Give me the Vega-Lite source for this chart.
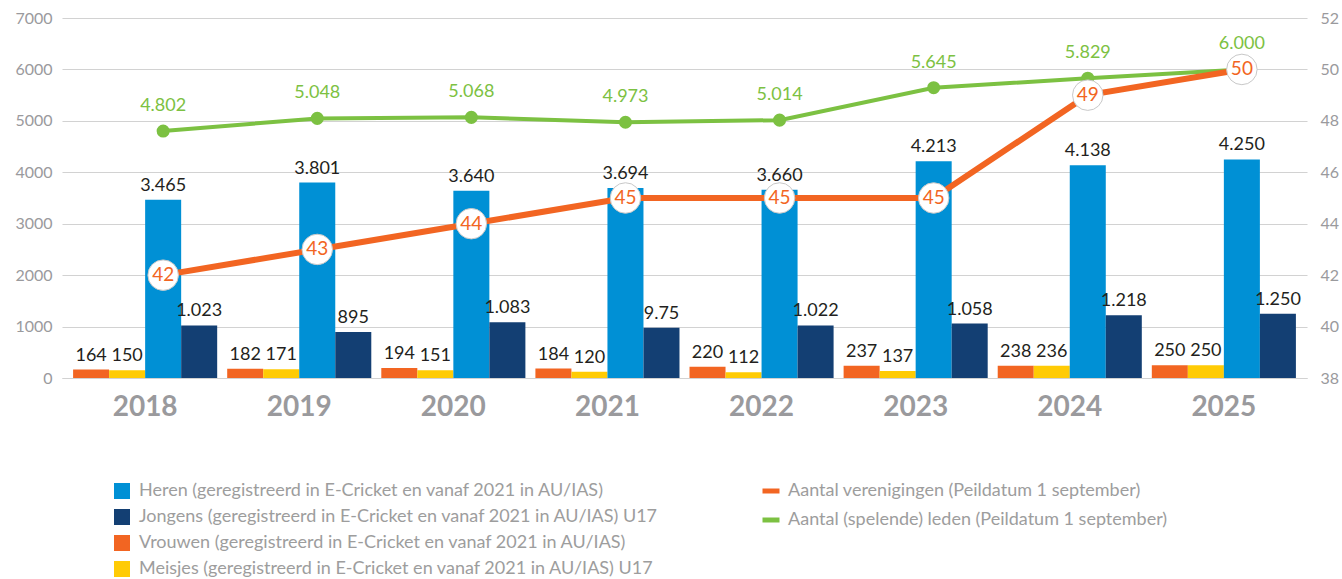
{
  "$schema": "https://vega.github.io/schema/vega-lite/v6.json",
  "width": 1245,
  "height": 360,
  "autosize": {"type": "none"},
  "padding": {"left": 62, "top": 18, "right": 35, "bottom": 201},
  "background": "white",
  "config": {
    "font": "Lato",
    "view": {"stroke": null},
    "axis": {"labelFont": "Lato", "labelColor": "#9a9a9d", "ticks": false, "domain": false, "gridColor": "#d2d2d2", "gridWidth": 1.2},
    "axisLeft": {"labelPadding": 10, "labelFontSize": 16},
    "axisRight": {"labelPadding": 13, "labelFontSize": 16},
    "legend": {"labelFont": "Lato", "labelFontSize": 18, "labelColor": "#9d9d9d", "orient": "none", "title": null, "rowPadding": 8, "labelOffset": 8, "labelLimit": 0, "padding": 0}
  },
  "datasets": {
    "bars": [
      {"year": "2018", "serie": "Vrouwen", "value": 164, "label": "164"},
      {"year": "2018", "serie": "Meisjes", "value": 150, "label": "150"},
      {"year": "2018", "serie": "Heren", "value": 3465, "label": "3.465"},
      {"year": "2018", "serie": "Jongens", "value": 1023, "label": "1.023"},
      {"year": "2019", "serie": "Vrouwen", "value": 182, "label": "182"},
      {"year": "2019", "serie": "Meisjes", "value": 171, "label": "171"},
      {"year": "2019", "serie": "Heren", "value": 3801, "label": "3.801"},
      {"year": "2019", "serie": "Jongens", "value": 895, "label": "895"},
      {"year": "2020", "serie": "Vrouwen", "value": 194, "label": "194"},
      {"year": "2020", "serie": "Meisjes", "value": 151, "label": "151"},
      {"year": "2020", "serie": "Heren", "value": 3640, "label": "3.640"},
      {"year": "2020", "serie": "Jongens", "value": 1083, "label": "1.083"},
      {"year": "2021", "serie": "Vrouwen", "value": 184, "label": "184"},
      {"year": "2021", "serie": "Meisjes", "value": 120, "label": "120"},
      {"year": "2021", "serie": "Heren", "value": 3694, "label": "3.694"},
      {"year": "2021", "serie": "Jongens", "value": 975, "label": "9.75"},
      {"year": "2022", "serie": "Vrouwen", "value": 220, "label": "220"},
      {"year": "2022", "serie": "Meisjes", "value": 112, "label": "112"},
      {"year": "2022", "serie": "Heren", "value": 3660, "label": "3.660"},
      {"year": "2022", "serie": "Jongens", "value": 1022, "label": "1.022"},
      {"year": "2023", "serie": "Vrouwen", "value": 237, "label": "237"},
      {"year": "2023", "serie": "Meisjes", "value": 137, "label": "137"},
      {"year": "2023", "serie": "Heren", "value": 4213, "label": "4.213"},
      {"year": "2023", "serie": "Jongens", "value": 1058, "label": "1.058"},
      {"year": "2024", "serie": "Vrouwen", "value": 238, "label": "238"},
      {"year": "2024", "serie": "Meisjes", "value": 236, "label": "236"},
      {"year": "2024", "serie": "Heren", "value": 4138, "label": "4.138"},
      {"year": "2024", "serie": "Jongens", "value": 1218, "label": "1.218"},
      {"year": "2025", "serie": "Vrouwen", "value": 250, "label": "250"},
      {"year": "2025", "serie": "Meisjes", "value": 250, "label": "250"},
      {"year": "2025", "serie": "Heren", "value": 4250, "label": "4.250"},
      {"year": "2025", "serie": "Jongens", "value": 1250, "label": "1.250"}
    ],
    "lines": [
      {"year": "2018", "verenigingen": 42, "leden": 4802, "ledenLabel": "4.802"},
      {"year": "2019", "verenigingen": 43, "leden": 5048, "ledenLabel": "5.048"},
      {"year": "2020", "verenigingen": 44, "leden": 5068, "ledenLabel": "5.068"},
      {"year": "2021", "verenigingen": 45, "leden": 4973, "ledenLabel": "4.973"},
      {"year": "2022", "verenigingen": 45, "leden": 5014, "ledenLabel": "5.014"},
      {"year": "2023", "verenigingen": 45, "leden": 5645, "ledenLabel": "5.645"},
      {"year": "2024", "verenigingen": 49, "leden": 5829, "ledenLabel": "5.829"},
      {"year": "2025", "verenigingen": 50, "leden": 6000, "ledenLabel": "6.000"}
    ]
  },
  "encoding": {
    "x": {
      "field": "year",
      "type": "ordinal",
      "scale": {"paddingInner": 0.065, "paddingOuter": 0.072},
      "axis": {"title": null, "labelAngle": 0, "labelFontSize": 28, "labelFontWeight": "bold", "labelColor": "#9a9a9d", "labelPadding": 15, "domain": true, "domainColor": "#d2d2d2", "domainWidth": 1.2, "ticks": false, "grid": false}
    }
  },
  "layer": [
    {
      "layer": [
        {
          "data": {"name": "bars"},
          "mark": {"type": "bar"},
          "encoding": {
            "xOffset": {"field": "serie", "type": "nominal", "scale": {"domain": ["Vrouwen", "Meisjes", "Heren", "Jongens"], "paddingInner": 0, "paddingOuter": 0}},
            "y": {"field": "value", "type": "quantitative", "scale": {"domain": [0, 7000], "nice": false}, "axis": {"orient": "left", "title": null, "values": [0, 1000, 2000, 3000, 4000, 5000, 6000, 7000], "format": "d", "grid": true}},
            "fill": {
              "field": "serie",
              "type": "nominal",
              "scale": {"domain": ["Heren", "Jongens", "Vrouwen", "Meisjes"], "range": ["#0090d5", "#133f73", "#f26522", "#ffcb05"]},
              "legend": {
                "legendX": 51,
                "legendY": 464,
                "symbolType": "square",
                "symbolSize": 256,
                "symbolStrokeWidth": 0,
                "labelExpr": "datum.label == 'Heren' ? 'Heren (geregistreerd in E-Cricket en vanaf 2021 in AU/IAS)' : datum.label == 'Jongens' ? 'Jongens (geregistreerd in E-Cricket en vanaf 2021 in AU/IAS) U17' : datum.label == 'Vrouwen' ? 'Vrouwen (geregistreerd in E-Cricket en vanaf 2021 in AU/IAS)' : 'Meisjes (geregistreerd in E-Cricket en vanaf 2021 in AU/IAS) U17'"
              }
            }
          }
        },
        {
          "data": {"name": "bars"},
          "mark": {"type": "text", "baseline": "alphabetic", "dy": -9, "fontSize": 18, "color": "#231f20"},
          "encoding": {
            "xOffset": {"field": "serie", "type": "nominal"},
            "y": {"field": "value", "type": "quantitative", "axis": {"title": null}},
            "text": {"field": "label"}
          }
        },
        {
          "data": {"name": "lines"},
          "mark": {"type": "line", "strokeWidth": 4},
          "encoding": {
            "xOffset": {"datum": "Heren"},
            "y": {"field": "leden", "type": "quantitative", "axis": {"title": null}},
            "stroke": {
              "datum": "Aantal (spelende) leden (Peildatum 1 september)",
              "scale": {"domain": ["Aantal verenigingen (Peildatum 1 september)", "Aantal (spelende) leden (Peildatum 1 september)"], "range": ["#f26522", "#7cc142"]},
              "legend": {"legendX": 698, "legendY": 462, "symbolType": "stroke", "symbolSize": 289, "symbolStrokeWidth": 5, "rowPadding": 8, "labelOffset": 6}
            }
          }
        },
        {
          "data": {"name": "lines"},
          "mark": {"type": "point", "filled": true, "shape": "circle", "size": 170, "color": "#7cc142", "opacity": 1},
          "encoding": {
            "xOffset": {"datum": "Heren"},
            "y": {"field": "leden", "type": "quantitative", "axis": {"title": null}}
          }
        },
        {
          "data": {"name": "lines"},
          "mark": {"type": "text", "baseline": "alphabetic", "dy": -20, "fontSize": 18, "color": "#7cc142"},
          "encoding": {
            "xOffset": {"datum": "Heren"},
            "y": {"field": "leden", "type": "quantitative", "axis": {"title": null}},
            "text": {"field": "ledenLabel"}
          }
        }
      ]
    },
    {
      "layer": [
        {
          "data": {"name": "lines"},
          "mark": {"type": "line", "strokeWidth": 6},
          "encoding": {
            "xOffset": {"datum": "Heren"},
            "y": {"field": "verenigingen", "type": "quantitative", "scale": {"domain": [38, 52], "nice": false}, "axis": {"orient": "right", "title": null, "values": [38, 40, 42, 44, 46, 48, 50, 52], "grid": false}},
            "stroke": {"datum": "Aantal verenigingen (Peildatum 1 september)"}
          }
        },
        {
          "data": {"name": "lines"},
          "mark": {"type": "point", "filled": false, "shape": "circle", "size": 930, "fill": "white", "fillOpacity": 1, "stroke": "#c8c8c8", "strokeWidth": 1, "opacity": 1},
          "encoding": {
            "xOffset": {"datum": "Heren"},
            "y": {"field": "verenigingen", "type": "quantitative"}
          }
        },
        {
          "data": {"name": "lines"},
          "mark": {"type": "text", "baseline": "middle", "fontSize": 19, "color": "#f26522"},
          "encoding": {
            "xOffset": {"datum": "Heren"},
            "y": {"field": "verenigingen", "type": "quantitative"},
            "text": {"field": "verenigingen"}
          }
        }
      ]
    }
  ],
  "resolve": {"scale": {"y": "independent"}}
}
